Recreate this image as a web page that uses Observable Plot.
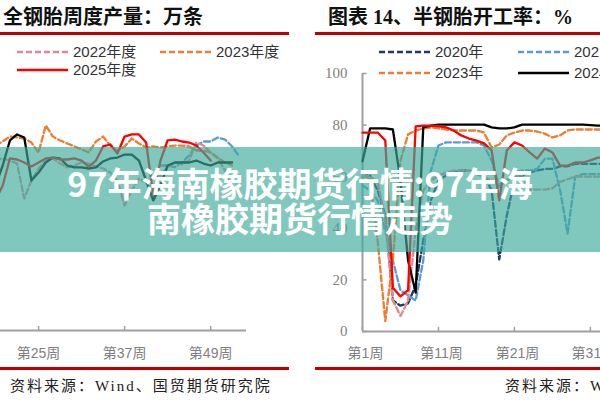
<!DOCTYPE html>
<html><head><meta charset="utf-8">
<script src="https://cdn.jsdelivr.net/npm/d3@7"></script>
<script src="https://cdn.jsdelivr.net/npm/@observablehq/plot@0.6"></script>
<style>
body{margin:0;background:#fff;}
#page{position:relative;width:600px;height:400px;overflow:hidden;background:#fff;font-family:"Liberation Sans","Noto Sans CJK SC",sans-serif;}
.abs{position:absolute;white-space:nowrap;}
.title{font-family:"Liberation Serif","Noto Sans CJK SC",serif;font-weight:700;font-size:20px;line-height:24px;color:#111;}
.bar{background:#c00000;height:3px;}
.leg{font-size:15px;line-height:18px;color:#333;display:flex;align-items:center;}
.leg svg{margin-right:5px;}
.src{font-family:"Liberation Serif","Noto Sans CJK SC",serif;font-size:15px;line-height:18px;color:#222;letter-spacing:2px;}
#banner{left:0;top:147px;width:600px;height:105px;background:rgba(60,170,155,0.65);color:#fff;font-family:"Noto Sans CJK SC",sans-serif;font-weight:700;font-size:34px;line-height:35px;text-align:center;box-sizing:border-box;padding-top:18px;}
</style></head><body><div id="page"></div>
<script>
// ---- Left chart: 全钢胎周度产量 (万条), visible weeks 19..53
const leftWeeks = [19,20,21,22,23,24,25,26,27,28,29,30,31,32,33,34,35,36,37,38,39,40,41,42,43,44,45,46,47,48,49,50,51,52,53];
const left2021 = [null,null,null,null,null,null,null,null,null,null,null,null,null,null,null,null,null,null,null,null,null,null,null,110,110,109,112,116.7,123.3,126,126,128.7,127.3,122.7,116];
const left2022 = [113.3,114.7,113.3,111.3,88,100,108,113.3,114.7,111.3,108.7,110,112,111.3,109.3,108,105.3,100,83.3,93.3,101.3,98.7,86.7,103.3,108.7,112,110.7,113.3,125.3,123.3,118.7,114.7,106.7,93.3,null];
const left2023 = [123.3,126,129.3,128.7,128,125.3,118.7,136.7,129.3,126.7,124.7,122.7,120.7,118.7,126,129.3,123.3,120,122.7,128,124.7,122,122.7,122,122.7,123.3,123.3,122.7,120,120,118.7,115.3,112,110,null];
const left2024 = [96.7,110,126.7,130.7,128.7,100,105.3,112,115.3,114.7,110,108.7,108.7,108,108.7,112.7,114.7,115.3,117.3,117.3,113.3,100,86.7,96.7,110,112,112,112,113.3,111.3,110,112,112,112,null];
const left2025 = [86.7,96.7,114.7,114,112,109.3,112,114.7,115.3,114,114,114.7,113.3,109.3,113.3,122.7,124,118,129.3,130.7,130.7,125.3,90,113.3,126.7,127.3,126,125.3,123.3,118.7,113.3,null,null,null,null];
const leftTicks = [25,37,49];

// ---- Right chart: 半钢胎开工率 (%), visible weeks 1..33
const rightWeeks = [1,2,3,4,5,6,7,8,9,10,11,12,13,14,15,16,17,18,19,20,21,22,23,24,25,26,27,28,29,30,31,32,33];
const right2020 = [62.4,60.5,54.7,45,12,10,10.9,17.8,35.3,50.8,58.5,60.5,61.6,62.4,62.4,61.6,60.5,54.7,28,45,58.5,60.5,61.6,62.4,63,63,64,64,65,65,65,65,65];
const right2021 = [56.6,54.7,50.8,39,27.5,15.9,14,12,27.5,62.4,72.1,73.3,73.3,73.3,73.3,73.3,72.1,66.3,56,58.5,61.6,62.4,62.4,63,67,67,55,38,60,61,61,61,61];
const right2022 = [60,60,58,43,12,6,12,39,54.7,58.5,60.5,61.6,62.4,62.4,62.4,61,60,58.5,57,58.5,60,60.5,55,55,55,55.5,58,59,60,60,60,60,60];
const right2023 = [62.4,58.5,35,4,28,66.3,76.4,77.9,78.7,79.1,78.7,78.3,77.9,77.9,77.9,77.9,77.1,71.3,72.5,76,77.1,77.9,77.9,77.5,76.7,75.2,76,77.9,78.3,78.3,78.3,78.3,78.3];
const right2024 = [66,78.7,78.7,78.7,78.3,58.5,27.5,15.1,79.1,79.8,80.2,80.2,80.2,80.2,80.2,80.2,80.2,79.1,78.7,78.7,79.1,80.2,80.2,80.2,80.2,80.2,80.2,80.2,80.2,80.2,80,79.8,79.8];
const right2025 = [77.1,77.1,77.1,74,17,13.6,16,79.5,79.8,79.8,79.5,79.1,77.9,76,74.8,74,72.9,70.2,50.8,70.2,73.3,72.1,69.4,67,70.9,69.4,64.3,64.3,65.5,65.5,66.3,67.4,67.4];
const rightXTicks = [1,11,21,31];
const rightYTicks = [0,20,40,60,80,100];

// text
const leftTitle = "全钢胎周度产量：万条";
const rightTitle = "图表 14、半钢胎开工率：%";
const sourceText = "资料来源：Wind、国贸期货研究院";
const bannerLines = ["97年海南橡胶期货行情:97年海", "南橡胶期货行情走势"];

const C = {y2020:"#1f3864", y2021:"#5b9bd5", y2022:"#dc8a8e", y2023:"#ed7d31", y2024:"#000000", y2025:"#ff0000"};
const axisGray = "#a0a0a0", labelGray = "#808080";
const DASH = "6,3";

const page = document.getElementById("page");
function add(html, cls, style){const d=document.createElement("div");d.className="abs "+(cls||"");d.style.cssText=style;d.innerHTML=html;page.appendChild(d);return d;}
function swatch(color, dashed){return `<svg width="51" height="6"><line x1="0" y1="3" x2="51" y2="3" stroke="${color}" stroke-width="2.5" ${dashed?`stroke-dasharray="${DASH}"`:""}/></svg>`;}

function seriesLine(weeks, arr, color, dashed, sw){
  return Plot.line(weeks, {x: d => d, y: (d, i) => arr[i], stroke: color, strokeWidth: sw || 2.3, strokeDasharray: dashed ? DASH : null, curve: "linear"});
}

// Left plot (x scale starts off-canvas at week 1)
const leftPlot = Plot.plot({
  width: 380, height: 300, marginLeft: 0, marginRight: 0, marginTop: 0, marginBottom: 50,
  x: {domain: [1, 54], axis: null},
  y: {domain: [0, 166.67], axis: null},
  style: {background: "transparent", overflow: "visible"},
  marks: [
    Plot.ruleY([0], {stroke: axisGray, strokeWidth: 2}),
    Plot.ruleX(leftTicks, {x: d => d, y1: 0, y2: 2.7, stroke: axisGray, strokeWidth: 1.5}),
    Plot.text(leftTicks, {x: d => d, y: 0, dy: 23, text: d => `第${d}周`, fill: labelGray, fontSize: 14, fontFamily: "Liberation Sans, Noto Sans CJK SC"}),
    seriesLine(leftWeeks, left2021, C.y2021, true),
    seriesLine(leftWeeks, left2022, C.y2022, true),
    seriesLine(leftWeeks, left2023, C.y2023, true),
    seriesLine(leftWeeks, left2024, C.y2024, false),
    seriesLine(leftWeeks, left2025, C.y2025, false)
  ]
});
leftPlot.style.position = "absolute"; leftPlot.style.left = "-134px"; leftPlot.style.top = "80px";
page.appendChild(leftPlot);

// Right plot
const rightPlot = Plot.plot({
  width: 457, height: 311, marginLeft: 62, marginRight: 0, marginTop: 13, marginBottom: 40,
  x: {domain: [1, 53], axis: null},
  y: {domain: [0, 100], axis: null},
  style: {background: "transparent", overflow: "visible"},
  marks: [
    Plot.ruleY([0], {x1: 1, x2: 53, stroke: axisGray, strokeWidth: 2}),
    Plot.ruleX([1], {y1: 0, y2: 100, stroke: axisGray, strokeWidth: 2}),
    Plot.ruleX(rightXTicks, {x: d => d, y1: 0, y2: 1.6, stroke: axisGray, strokeWidth: 1.5}),
    Plot.ruleY(rightYTicks, {y: d => d, x1: 1, x2: 1.6, stroke: axisGray, strokeWidth: 1.5}),
    Plot.text(rightXTicks, {x: d => d, y: 0, dy: 22, dx: 3, text: d => `第${d}周`, fill: labelGray, fontSize: 14, fontFamily: "Liberation Sans, Noto Sans CJK SC"}),
    Plot.text(rightYTicks, {x: 1, y: d => d, dx: -15, textAnchor: "end", text: d => String(d), fill: labelGray, fontSize: 15, fontFamily: "Liberation Serif, serif"}),
    seriesLine(rightWeeks, right2020, C.y2020, true),
    seriesLine(rightWeeks, right2021, C.y2021, true),
    seriesLine(rightWeeks, right2022, C.y2022, true),
    seriesLine(rightWeeks, right2023, C.y2023, true),
    seriesLine(rightWeeks, right2024, C.y2024, false),
    seriesLine(rightWeeks, right2025, C.y2025, false)
  ]
});
rightPlot.style.position = "absolute"; rightPlot.style.left = "300px"; rightPlot.style.top = "60px";
page.appendChild(rightPlot);

// Titles and rules
add(leftTitle, "title", "left:3px;top:5px;");
add(rightTitle, "title", "left:328px;top:5px;");
add("", "bar", "left:0;top:32px;width:289px;");
add("", "bar", "left:315px;top:32px;width:285px;");
add("", "bar", "left:0;top:367px;width:289px;");
add("", "bar", "left:315px;top:367px;width:285px;");

// Left legend
add(swatch(C.y2022, true) + "2022年度", "leg", "left:17px;top:43px;");
add(swatch(C.y2023, true) + "2023年度", "leg", "left:160px;top:43px;");
add(swatch(C.y2025, false) + "2025年度", "leg", "left:17px;top:61px;");
// Right legend
add(swatch(C.y2020, true) + "2020年", "leg", "left:379px;top:43px;");
add(swatch(C.y2021, true) + "2021年", "leg", "left:518px;top:43px;");
add(swatch(C.y2023, true) + "2023年", "leg", "left:379px;top:64px;");
add(swatch(C.y2024, false) + "2024年", "leg", "left:518px;top:64px;");

// Sources
add(sourceText, "src", "left:10px;top:377px;");
add(sourceText, "src", "left:505px;top:377px;");

// Banner
const b = add(bannerLines.join("<br>"), "", "");
b.id = "banner";
</script>
</body></html>
